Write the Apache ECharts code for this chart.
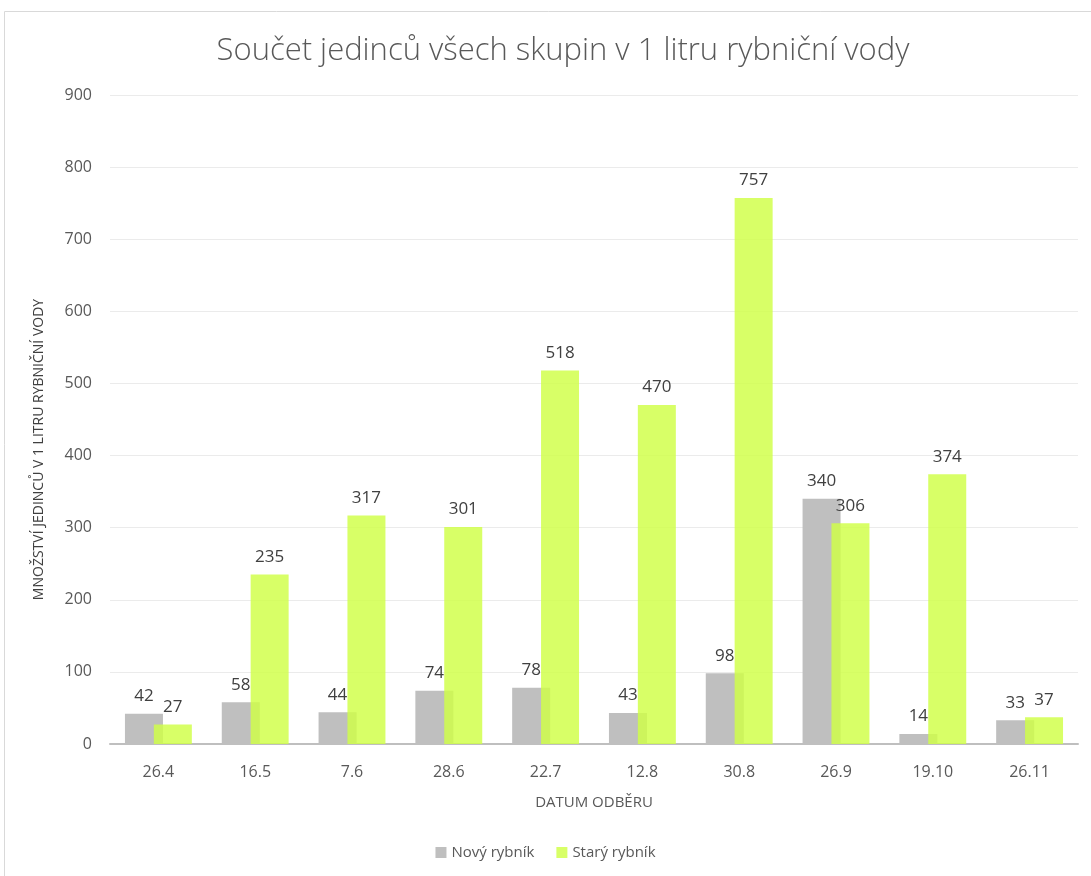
<!DOCTYPE html>
<html>
<head>
<meta charset="utf-8">
<script src="https://cdn.jsdelivr.net/npm/echarts@6/dist/echarts.min.js"></script>
<style>
  html, body { margin: 0; padding: 0; background: #fff; }
  #main { width: 1091px; height: 876px; }
</style>
</head>
<body>
<div id="main"></div>
<script>
var dates = ['26.4', '16.5', '7.6', '28.6', '22.7', '12.8', '30.8', '26.9', '19.10', '26.11'];
var novy = [42, 58, 44, 74, 78, 43, 98, 340, 14, 33];
var stary = [27, 235, 317, 301, 518, 470, 757, 306, 374, 37];

var font = '"Open Sans", "Noto Sans", sans-serif';
var chart = echarts.init(document.getElementById('main'));

chart.setOption({
    animation: false,
    textStyle: { fontFamily: font },
    graphic: [{
        type: 'rect',
        shape: { x: 4.5, y: 11.5, width: 1090, height: 870 },
        style: { fill: 'none', stroke: '#d9d9d9', lineWidth: 1 },
        silent: true
    }],
    title: {
        text: 'Součet jedinců všech skupin v 1 litru rybniční vody',
        left: 558,
        textAlign: 'center',
        top: 31,
        textStyle: { fontSize: 31, fontWeight: 300, color: '#595959' }
    },
    legend: {
        bottom: 11,
        left: 'center',
        itemWidth: 11,
        itemHeight: 11,
        itemGap: 22,
        icon: 'rect',
        textStyle: { fontSize: 15, color: '#595959' },
        data: ['Nový rybník', 'Starý rybník']
    },
    grid: { left: 110, right: 13, top: 95, bottom: 132 },
    xAxis: {
        type: 'category',
        data: dates,
        name: 'DATUM ODBĚRU',
        nameLocation: 'middle',
        nameGap: 51,
        nameTextStyle: { fontSize: 15, color: '#595959' },
        axisLine: { lineStyle: { color: '#bfbfbf', width: 2 } },
        axisTick: { show: false },
        axisLabel: { fontSize: 16, color: '#595959', margin: 20 }
    },
    yAxis: {
        type: 'value',
        min: 0,
        max: 900,
        interval: 100,
        name: 'MNOŽSTVÍ JEDINCŮ V 1 LITRU RYBNIČNÍ VODY',
        nameLocation: 'middle',
        nameGap: 64,
        nameTextStyle: { fontSize: 14, color: '#404040', padding: [0, 60, 0, 0] },
        axisLine: { show: false },
        axisTick: { show: false },
        axisLabel: { fontSize: 16, color: '#595959', margin: 18 },
        splitLine: { lineStyle: { color: '#ebebeb', width: 1 } }
    },
    series: [{
        name: 'Nový rybník',
        type: 'bar',
        data: novy,
        barWidth: 38,
        barGap: '-24%',
        itemStyle: { color: '#bfbfbf' },
        label: { show: true, position: 'top', fontSize: 17, color: '#404040', distance: 9 }
    }, {
        name: 'Starý rybník',
        type: 'bar',
        data: stary,
        barWidth: 38,
        itemStyle: { color: 'rgba(208,255,70,0.82)' },
        label: { show: true, position: 'top', fontSize: 17, color: '#404040', distance: 9 }
    }]
});
</script>
</body>
</html>
